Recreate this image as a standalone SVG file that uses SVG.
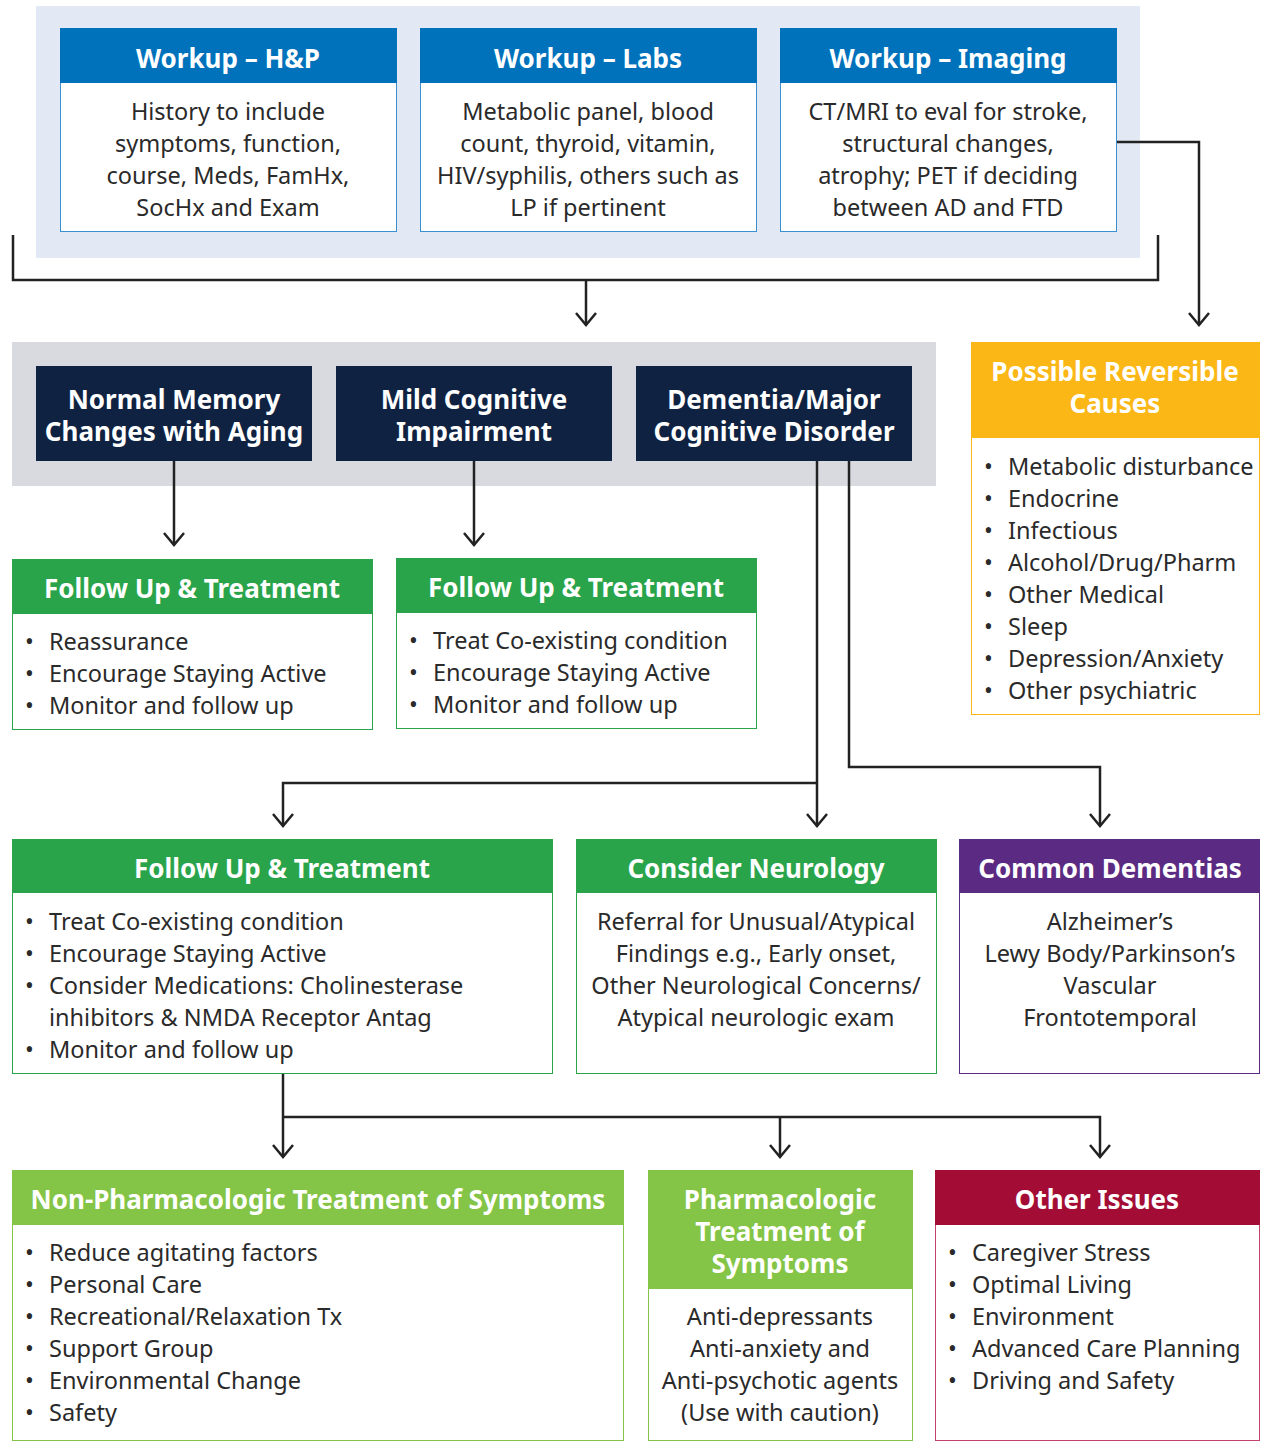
<svg xmlns="http://www.w3.org/2000/svg" width="1263" height="1455" viewBox="0 0 1263 1455">
<style>
text{font-family:"Noto Sans","Open Sans",sans-serif;}
.h{font-size:26px;font-weight:700;fill:#fff;text-anchor:middle;}
.b{font-size:23.5px;fill:#2a2a2a;}
.c{text-anchor:middle;}
.con{fill:none;stroke:#222;stroke-width:2.5;}
</style>
<defs>
<marker id="arr" markerWidth="24" markerHeight="16" refX="11" refY="14" orient="0" markerUnits="userSpaceOnUse" viewBox="0 0 22 16">
<path d="M1 2 L11 14 L21 2" fill="none" stroke="#222" stroke-width="2.5"/>
</marker>
</defs>
<rect x="0" y="0" width="1263" height="1455" fill="#fff"/>
<rect x="36" y="6" width="1104" height="252" fill="#e2e8f4"/>
<rect x="12" y="342" width="924" height="144" fill="#d8dae0"/>

<g id="connectors">
<path class="con" d="M13 235 V280 H1158 V235"/>
<path class="con" d="M586 280 V325" marker-end="url(#arr)"/>
<path class="con" d="M1116 142 H1199 V325" marker-end="url(#arr)"/>
<path class="con" d="M174 461 V545" marker-end="url(#arr)"/>
<path class="con" d="M474 461 V545" marker-end="url(#arr)"/>
<path class="con" d="M817 461 V826" marker-end="url(#arr)"/>
<path class="con" d="M817 783 H283 V826" marker-end="url(#arr)"/>
<path class="con" d="M849 461 V767 H1100 V826" marker-end="url(#arr)"/>
<path class="con" d="M283 1073 V1157" marker-end="url(#arr)"/>
<path class="con" d="M283 1117 H1100 V1157" marker-end="url(#arr)"/>
<path class="con" d="M780 1117 V1157" marker-end="url(#arr)"/>
</g>

<g id="workup-hp">
<rect x="60.5" y="28.5" width="336" height="203" fill="#fff" stroke="#3a8fd0"/>
<rect x="60" y="28" width="337" height="55" fill="#0072bc"/>
<text class="h" x="228" y="68">Workup – H&amp;P</text>
<text class="b c" x="228" y="120">History to include</text>
<text class="b c" x="228" y="152">symptoms, function,</text>
<text class="b c" x="228" y="184">course, Meds, FamHx,</text>
<text class="b c" x="228" y="216">SocHx and Exam</text>
</g>
<g id="workup-labs">
<rect x="420.5" y="28.5" width="336" height="203" fill="#fff" stroke="#3a8fd0"/>
<rect x="420" y="28" width="337" height="55" fill="#0072bc"/>
<text class="h" x="588" y="68">Workup – Labs</text>
<text class="b c" x="588" y="120">Metabolic panel, blood</text>
<text class="b c" x="588" y="152">count, thyroid, vitamin,</text>
<text class="b c" x="588" y="184">HIV/syphilis, others such as</text>
<text class="b c" x="588" y="216">LP if pertinent</text>
</g>
<g id="workup-imaging">
<rect x="780.5" y="28.5" width="336" height="203" fill="#fff" stroke="#3a8fd0"/>
<rect x="780" y="28" width="337" height="55" fill="#0072bc"/>
<text class="h" x="948" y="68">Workup – Imaging</text>
<text class="b c" x="948" y="120">CT/MRI to eval for stroke,</text>
<text class="b c" x="948" y="152">structural changes,</text>
<text class="b c" x="948" y="184">atrophy; PET if deciding</text>
<text class="b c" x="948" y="216">between AD and FTD</text>
</g>

<g id="normal-memory">
<rect x="36" y="366" width="276" height="95" fill="#0f2242"/>
<text class="h" x="174" y="409">Normal Memory</text>
<text class="h" x="174" y="441">Changes with Aging</text>
</g>
<g id="mci">
<rect x="336" y="366" width="276" height="95" fill="#0f2242"/>
<text class="h" x="474" y="409">Mild Cognitive</text>
<text class="h" x="474" y="441">Impairment</text>
</g>
<g id="dementia">
<rect x="636" y="366" width="276" height="95" fill="#0f2242"/>
<text class="h" x="774" y="409">Dementia/Major</text>
<text class="h" x="774" y="441">Cognitive Disorder</text>
</g>

<g id="reversible">
<rect x="971.5" y="342.5" width="288" height="372" fill="#fff" stroke="#fbb716"/>
<rect x="971" y="342" width="289" height="96" fill="#fbb716"/>
<text class="h" x="1115" y="381">Possible Reversible</text>
<text class="h" x="1115" y="413">Causes</text>
<g class="b">
<text x="984" y="475">•</text><text x="1008" y="475">Metabolic disturbance</text>
<text x="984" y="507">•</text><text x="1008" y="507">Endocrine</text>
<text x="984" y="539">•</text><text x="1008" y="539">Infectious</text>
<text x="984" y="571">•</text><text x="1008" y="571">Alcohol/Drug/Pharm</text>
<text x="984" y="603">•</text><text x="1008" y="603">Other Medical</text>
<text x="984" y="635">•</text><text x="1008" y="635">Sleep</text>
<text x="984" y="667">•</text><text x="1008" y="667">Depression/Anxiety</text>
<text x="984" y="699">•</text><text x="1008" y="699">Other psychiatric</text>
</g>
</g>

<g id="followup-normal">
<rect x="12.5" y="559.5" width="360" height="170" fill="#fff" stroke="#2aa44a"/>
<rect x="12" y="559" width="361" height="55" fill="#2aa44a"/>
<text class="h" x="192" y="598">Follow Up &amp; Treatment</text>
<g class="b">
<text x="25" y="650">•</text><text x="49" y="650">Reassurance</text>
<text x="25" y="682">•</text><text x="49" y="682">Encourage Staying Active</text>
<text x="25" y="714">•</text><text x="49" y="714">Monitor and follow up</text>
</g>
</g>
<g id="followup-mci">
<rect x="396.5" y="558.5" width="360" height="170" fill="#fff" stroke="#2aa44a"/>
<rect x="396" y="558" width="361" height="55" fill="#2aa44a"/>
<text class="h" x="576" y="597">Follow Up &amp; Treatment</text>
<g class="b">
<text x="409" y="649">•</text><text x="433" y="649">Treat Co-existing condition</text>
<text x="409" y="681">•</text><text x="433" y="681">Encourage Staying Active</text>
<text x="409" y="713">•</text><text x="433" y="713">Monitor and follow up</text>
</g>
</g>

<g id="followup-dementia">
<rect x="12.5" y="839.5" width="540" height="234" fill="#fff" stroke="#2aa44a"/>
<rect x="12" y="839" width="541" height="54" fill="#2aa44a"/>
<text class="h" x="282" y="878">Follow Up &amp; Treatment</text>
<g class="b">
<text x="25" y="930">•</text><text x="49" y="930">Treat Co-existing condition</text>
<text x="25" y="962">•</text><text x="49" y="962">Encourage Staying Active</text>
<text x="25" y="994">•</text><text x="49" y="994">Consider Medications: Cholinesterase</text>
<text x="49" y="1026">inhibitors &amp; NMDA Receptor Antag</text>
<text x="25" y="1058">•</text><text x="49" y="1058">Monitor and follow up</text>
</g>
</g>
<g id="neurology">
<rect x="576.5" y="839.5" width="360" height="234" fill="#fff" stroke="#2aa44a"/>
<rect x="576" y="839" width="361" height="54" fill="#2aa44a"/>
<text class="h" x="756" y="878">Consider Neurology</text>
<text class="b c" x="756" y="930">Referral for Unusual/Atypical</text>
<text class="b c" x="756" y="962">Findings e.g., Early onset,</text>
<text class="b c" x="756" y="994">Other Neurological Concerns/</text>
<text class="b c" x="756" y="1026">Atypical neurologic exam</text>
</g>
<g id="common-dementias">
<rect x="959.5" y="839.5" width="300" height="234" fill="#fff" stroke="#5b2a82"/>
<rect x="959" y="839" width="301" height="54" fill="#5b2a82"/>
<text class="h" x="1110" y="878">Common Dementias</text>
<text class="b c" x="1110" y="930">Alzheimer’s</text>
<text class="b c" x="1110" y="962">Lewy Body/Parkinson’s</text>
<text class="b c" x="1110" y="994">Vascular</text>
<text class="b c" x="1110" y="1026">Frontotemporal</text>
</g>

<g id="non-pharm">
<rect x="12.5" y="1170.5" width="611" height="270" fill="#fff" stroke="#84c446"/>
<rect x="12" y="1170" width="612" height="55" fill="#84c446"/>
<text class="h" x="318" y="1209">Non-Pharmacologic Treatment of Symptoms</text>
<g class="b">
<text x="25" y="1261">•</text><text x="49" y="1261">Reduce agitating factors</text>
<text x="25" y="1293">•</text><text x="49" y="1293">Personal Care</text>
<text x="25" y="1325">•</text><text x="49" y="1325">Recreational/Relaxation Tx</text>
<text x="25" y="1357">•</text><text x="49" y="1357">Support Group</text>
<text x="25" y="1389">•</text><text x="49" y="1389">Environmental Change</text>
<text x="25" y="1421">•</text><text x="49" y="1421">Safety</text>
</g>
</g>
<g id="pharm">
<rect x="648.5" y="1170.5" width="264" height="270" fill="#fff" stroke="#84c446"/>
<rect x="648" y="1170" width="265" height="119" fill="#84c446"/>
<text class="h" x="780" y="1209">Pharmacologic</text>
<text class="h" x="780" y="1241">Treatment of</text>
<text class="h" x="780" y="1273">Symptoms</text>
<text class="b c" x="780" y="1325">Anti-depressants</text>
<text class="b c" x="780" y="1357">Anti-anxiety and</text>
<text class="b c" x="780" y="1389">Anti-psychotic agents</text>
<text class="b c" x="780" y="1421">(Use with caution)</text>
</g>
<g id="other-issues">
<rect x="935.5" y="1170.5" width="324" height="270" fill="#fff" stroke="#c2436a"/>
<rect x="935" y="1170" width="325" height="55" fill="#a30d35"/>
<text class="h" x="1097" y="1209">Other Issues</text>
<g class="b">
<text x="948" y="1261">•</text><text x="972" y="1261">Caregiver Stress</text>
<text x="948" y="1293">•</text><text x="972" y="1293">Optimal Living</text>
<text x="948" y="1325">•</text><text x="972" y="1325">Environment</text>
<text x="948" y="1357">•</text><text x="972" y="1357">Advanced Care Planning</text>
<text x="948" y="1389">•</text><text x="972" y="1389">Driving and Safety</text>
</g>
</g>
</svg>
